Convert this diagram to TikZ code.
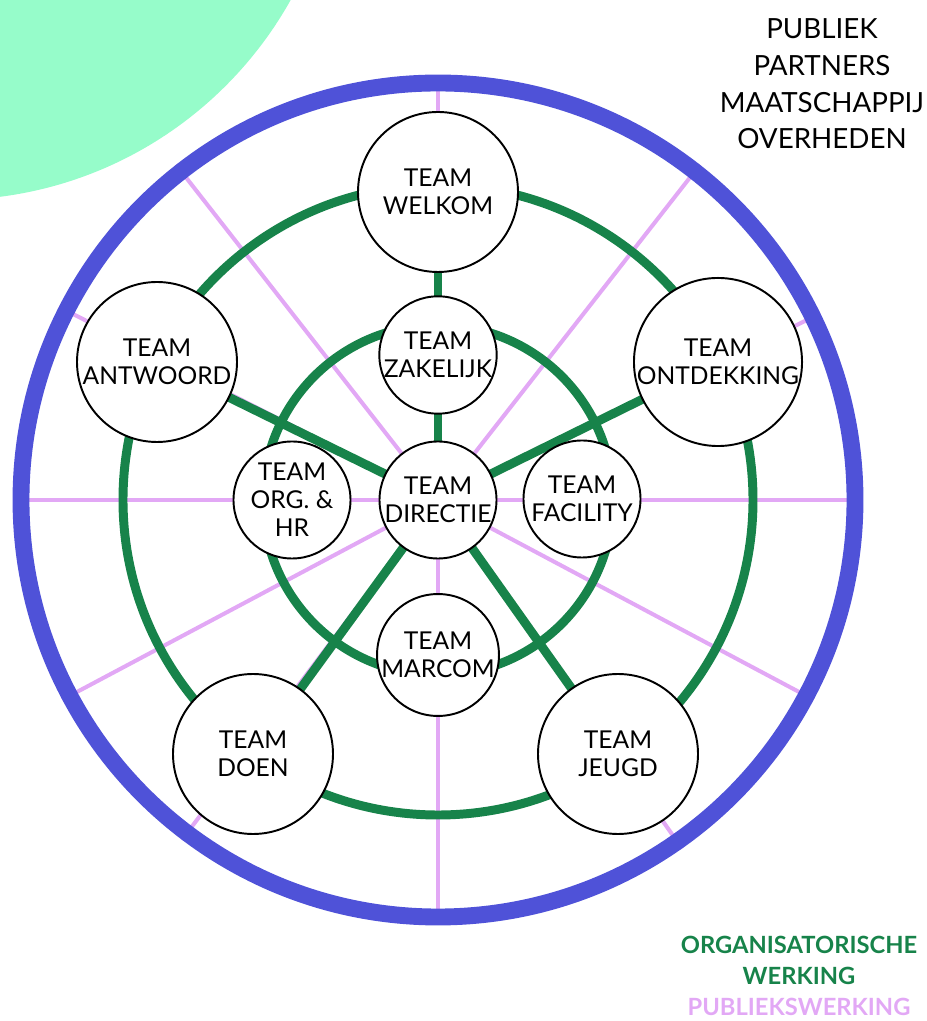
\documentclass[tikz,border=0pt]{standalone}
\usepackage{fontspec}
\setmainfont{Lato}
\usepackage{tikz}
\usetikzlibrary{positioning,calc}

\definecolor{ringblue}{HTML}{4F52D8}
\definecolor{orggreen}{HTML}{17834A}
\definecolor{pubpink}{HTML}{E2A8F5}
\definecolor{mintgreen}{HTML}{96FCCA}

\pgfdeclarelayer{pinklayer}
\pgfdeclarelayer{greenlayer}
\pgfsetlayers{pinklayer,greenlayer,main}

\tikzset{
    team/.style={circle,draw,line width=1.1pt,fill=white,inner sep=0pt,align=center,
        minimum size=3.2cm,font={\fontsize{14}{16}\selectfont}},
    subteam/.style={team,minimum size=2.34cm},
    orgline/.style={orggreen,line width=5.1pt},
    publine/.style={pubpink,line width=2.3pt},
}

\begin{document}
\begin{tikzpicture}
        \useasboundingbox (-8.76,-10.42) rectangle (9.76,10);
        \clip (-8.76,-10.42) rectangle (9.76,10);

        % Corner blob
        \fill[mintgreen] (-9.76,13.8) circle (7.8);

        % Outer ring
        \node[circle,draw=ringblue,line width=9.6pt,minimum size=16.68cm] (outer) at (0,0) {};

        % Centre and inner teams
        \node[subteam] (dir) at (0,0) {TEAM\\DIRECTIE};
        \node[subteam] (zak) at (0,2.9) {TEAM\\ZAKELIJK};
        \node[subteam] (org) at (-2.92,0) {TEAM\\ORG. \&\\HR};
        \node[subteam] (fac) at (2.88,0.02) {TEAM\\FACILITY};
        \node[subteam] (mar) at (0,-3.1) {TEAM\\MARCOM};

        % Outer teams
        \node[team] (wel) at (0,6.16) {TEAM\\WELKOM};
        \node[team] (ant) at (-5.62,2.76) {TEAM\\ANTWOORD};
        \node[team] (ont) at (5.6,2.76) {TEAM\\ONTDEKKING};
        \node[team] (doe) at (-3.7,-5.08) {TEAM\\DOEN};
        \node[team] (jeu) at (3.6,-5.08) {TEAM\\JEUGD};

        % Spokes to the outer ring
        \begin{pgfonlayer}{pinklayer}
            \foreach \a in {0,26.2,52,90,128,153.8,180,208,233.9,270,305.3,332}
                \draw[publine] (dir.center) -- (outer.\a);
        \end{pgfonlayer}

        % Rings and links between teams
        \begin{pgfonlayer}{greenlayer}
            \node[circle,draw=orggreen,line width=5.1pt,minimum size=12.6cm] (bigring) at (0,0) {};
            \node[circle,draw=orggreen,line width=5.1pt,minimum size=7cm] (smallring) at (0,0) {};
            \draw[orgline] (dir.center) -- (zak.center);
            \draw[orgline] (zak.center) -- (wel.center);
            \draw[orgline] (dir.center) -- (ant.center);
            \draw[orgline] (dir.center) -- (ont.center);
            \draw[orgline] (dir.center) -- (doe.center);
            \draw[orgline] (dir.center) -- (jeu.center);
        \end{pgfonlayer}

        % Legends
        \node[anchor=north,inner sep=0pt,align=center,font={\fontsize{15.8}{21}\selectfont}] (pub) at (7.68,9.64)
            {PUBLIEK\\PARTNERS\\MAATSCHAPPIJ\\OVERHEDEN};
        \node[anchor=north,inner sep=0pt,align=center,font={\bfseries\fontsize{13.5}{17.5}\selectfont}] (leg) at (7.22,-8.72)
            {\textcolor{orggreen}{ORGANISATORISCHE}\\\textcolor{orggreen}{WERKING}\\\textcolor{pubpink}{PUBLIEKSWERKING}};
    \end{tikzpicture}
\end{document}
